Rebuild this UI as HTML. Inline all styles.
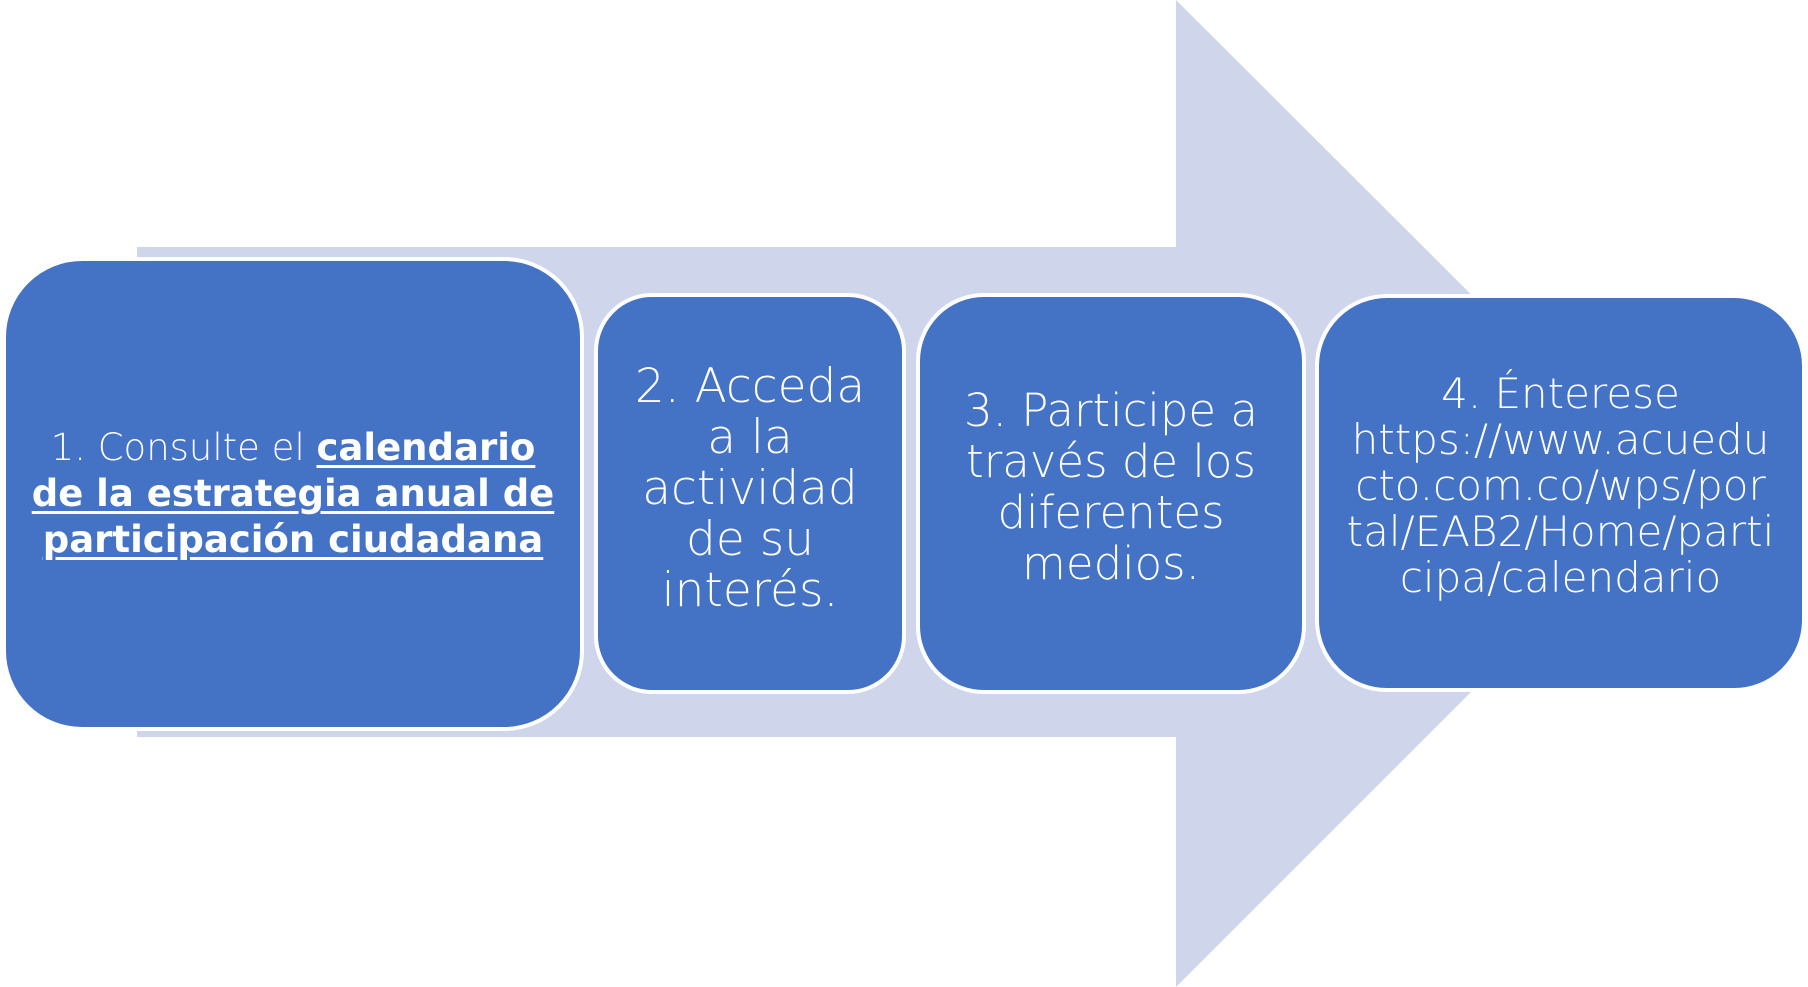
<!DOCTYPE html>
<html><head><meta charset="utf-8"><style>
html,body{margin:0;padding:0;background:#fff;}
body{width:1808px;height:987px;position:relative;overflow:hidden;font-family:"DejaVu Sans","Liberation Sans",sans-serif;}
.b{position:absolute;box-sizing:border-box;background:#4472C4;border:4px solid #fff;color:#fff;display:flex;align-items:center;justify-content:center;text-align:center;font-weight:300;}
.b div{white-space:nowrap;}
b{font-weight:700;}
u{text-decoration-thickness:3px;text-underline-offset:5px;}
</style></head><body>
<svg width="1808" height="987" style="position:absolute;left:0;top:0">
<polygon points="137,247 1176,247 1176,0 1670,493 1176,987 1176,737 137,737" fill="#CFD5EA"/>
</svg>
<div class="b" style="left:2px;top:257px;width:582px;height:474px;border-radius:80px;font-size:37px;line-height:46px;">
<div>1. Consulte el <u><b>calendario</b></u><br><u><b>de la estrategia anual de</b></u><br><u><b>participación ciudadana</b></u></div></div>
<div class="b" style="left:594px;top:293px;width:312px;height:401px;border-radius:58px;font-size:47px;line-height:51px;">
<div style="margin-top:-10px">2. Acceda<br>a la<br>actividad<br>de su<br>interés.</div></div>
<div class="b" style="left:916px;top:293px;width:390px;height:401px;border-radius:68px;font-size:45px;line-height:51px;">
<div style="margin-top:-14px">3. Participe a<br>través de los<br>diferentes<br>medios.</div></div>
<div class="b" style="left:1315px;top:294px;width:491px;height:398px;border-radius:72px;font-size:42px;line-height:46px;">
<div style="margin-top:-14px">4. Énterese<br>https://www.acuedu<br>cto.com.co/wps/por<br>tal/EAB2/Home/parti<br>cipa/calendario</div></div>
</body></html>
